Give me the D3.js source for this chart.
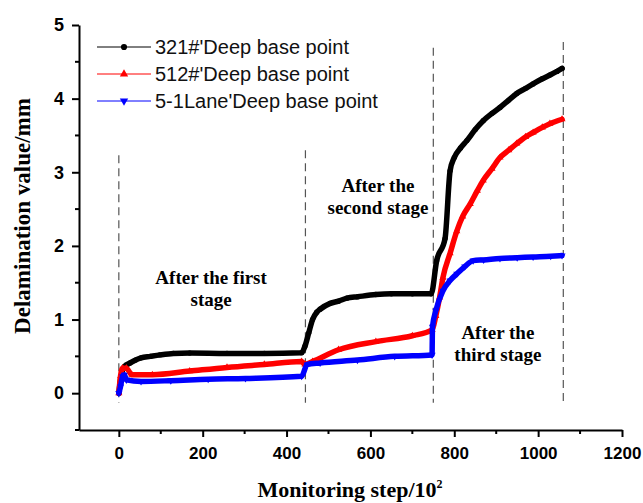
<!DOCTYPE html>
<html>
<head>
<meta charset="utf-8">
<script src="https://cdn.jsdelivr.net/npm/d3@7/dist/d3.min.js"></script>
<style>
  body { margin: 0; background: #fff; }
  svg { display: block; }
</style>
</head>
<body>
<svg id="chart" width="643" height="503"></svg>
<script>
// Monitoring step (x 10^2) and delamination value (mm) for each deep base point
const steps321 = [0, 4, 13, 27, 40, 53, 75, 98, 130, 169, 258, 347, 436, 444, 453, 462, 472, 480, 504, 524, 544, 570, 613, 650, 700, 745, 758, 778, 790, 800, 815, 830, 850, 869, 890, 909, 930, 949, 970, 988, 1010, 1028, 1045, 1057];
const vals321  = [0, 0.18, 0.36, 0.41, 0.45, 0.48, 0.5, 0.52, 0.54, 0.545, 0.54, 0.54, 0.55, 0.64, 0.82, 1.0, 1.1, 1.14, 1.22, 1.25, 1.29, 1.31, 1.34, 1.35, 1.35, 1.35, 1.8, 2.1, 3.02, 3.2, 3.33, 3.43, 3.58, 3.7, 3.8, 3.88, 3.98, 4.07, 4.14, 4.2, 4.27, 4.32, 4.37, 4.41];

const steps512 = [0, 4, 9, 18, 31, 80, 169, 258, 347, 436, 444, 462, 524, 613, 700, 747, 756, 765, 773, 790, 806, 820, 838, 855, 869, 890, 909, 930, 949, 970, 988, 1010, 1028, 1057];
const vals512  = [0, 0.23, 0.34, 0.34, 0.25, 0.25, 0.3, 0.35, 0.39, 0.43, 0.39, 0.43, 0.59, 0.7, 0.78, 0.86, 1.05, 1.3, 1.57, 1.9, 2.2, 2.4, 2.57, 2.75, 2.89, 3.05, 3.2, 3.3, 3.39, 3.48, 3.54, 3.61, 3.66, 3.72];

const steps51 = [0, 4, 9, 13, 18, 53, 124, 213, 302, 436, 449, 480, 569, 658, 747, 748, 756, 773, 790, 806, 825, 845, 870, 909, 950, 988, 1030, 1057];
const vals51  = [0, 0.09, 0.23, 0.25, 0.18, 0.16, 0.17, 0.19, 0.2, 0.23, 0.39, 0.41, 0.45, 0.5, 0.52, 0.9, 1.12, 1.39, 1.53, 1.62, 1.72, 1.8, 1.81, 1.83, 1.84, 1.85, 1.86, 1.87];

const seriesNames = ["321#'Deep base point", "512#'Deep base point", "5-1Lane'Deep base point"];
const seriesColors = ["#000000", "#ff0000", "#0000ff"];
const seriesSymbols = [d3.symbolCircle, d3.symbolTriangle, "down"];

// Stage boundaries: step and the value span of each dashed guide
const stageSteps = [0, 445, 750, 1060];
const stageTop = [3.23, 3.3, 4.69, 4.77];
const stageBottom = -0.13;

const xTicks = [0, 200, 400, 600, 800, 1000, 1200];
const xMinor = [100, 300, 500, 700, 900, 1100];
const yTicks = [0, 1, 2, 3, 4, 5];
const yMinor = [-0.5, 0.5, 1.5, 2.5, 3.5, 4.5];

const stageLabels = [
  { step: 220, value: 1.48, lines: ["After the first", "stage"] },
  { step: 618, value: 2.73, lines: ["After the", "second stage"] },
  { step: 904, value: 0.74, lines: ["After the", "third stage"] }
];

const svg = d3.select("#chart");
const x = d3.scaleLinear().domain([-95, 1200]).range([79, 622]);
const y = d3.scaleLinear().domain([-0.5, 5]).range([430, 25]);

const tickFont = "'Liberation Sans', Arial, sans-serif";
const serif = "'Liberation Serif', 'Times New Roman', serif";

// Axes
const xAxis = svg.append("g").attr("transform", "translate(0,430)")
  .call(d3.axisBottom(x).tickValues(xTicks).tickSize(7).tickPadding(5).tickSizeOuter(0).tickFormat(d3.format("d")));
const yAxis = svg.append("g").attr("transform", "translate(79,0)")
  .call(d3.axisLeft(y).tickValues(yTicks).tickSize(7).tickPadding(8).tickSizeOuter(0).tickFormat(d3.format("d")));
[xAxis, yAxis].forEach(g => {
  g.select(".domain").attr("stroke", "#000").attr("stroke-width", 2);
  g.selectAll(".tick line").attr("stroke", "#000").attr("stroke-width", 2);
  g.selectAll(".tick text").attr("font-family", tickFont).attr("font-weight", "bold")
    .attr("fill", "#000");
});
xAxis.selectAll(".tick text").attr("font-size", 17).attr("dy", "1.0em");
yAxis.selectAll(".tick text").attr("font-size", 18);

// Minor ticks
svg.append("g").selectAll("line").data(xMinor).join("line")
  .attr("x1", d => x(d)).attr("x2", d => x(d)).attr("y1", 430).attr("y2", 434)
  .attr("stroke", "#000").attr("stroke-width", 2);
svg.append("g").selectAll("line").data(yMinor).join("line")
  .attr("x1", 75).attr("x2", 79).attr("y1", d => y(d)).attr("y2", d => y(d))
  .attr("stroke", "#000").attr("stroke-width", 2);

// Stage guides
svg.append("g").selectAll("line").data(stageSteps).join("line")
  .attr("x1", d => x(d)).attr("x2", d => x(d))
  .attr("y1", (d, i) => y(stageTop[i])).attr("y2", y(stageBottom))
  .attr("stroke", "#555").attr("stroke-width", 1.2).attr("stroke-dasharray", "8,5");

// Series
const series = [
  { s: steps321, v: vals321 },
  { s: steps512, v: vals512 },
  { s: steps51, v: vals51 }
];
const line = d3.line().x(d => x(d[0])).y(d => y(d[1])).curve(d3.curveMonotoneX);
function symbolPath(sym, size) {
  if (sym === "down") return d3.symbol(d3.symbolTriangle, size)();
  return d3.symbol(sym, size)();
}
series.forEach((ser, i) => {
  const pts = ser.s.map((st, k) => [st, ser.v[k]]);
  const g = svg.append("g");
  g.append("path").datum(pts).attr("d", line)
    .attr("fill", "none").attr("stroke", seriesColors[i]).attr("stroke-width", 5.5)
    .attr("stroke-linejoin", "round").attr("stroke-linecap", "round");
  g.selectAll("path.m").data(pts).join("path").attr("class", "m")
    .attr("d", symbolPath(seriesSymbols[i], 22))
    .attr("transform", d => `translate(${x(d[0])},${y(d[1])})` + (seriesSymbols[i] === "down" ? " rotate(180)" : ""))
    .attr("fill", seriesColors[i]);
});

// Legend
const legend = svg.append("g");
seriesNames.forEach((name, i) => {
  const ly = 47 + i * 27;
  legend.append("line").attr("x1", 97).attr("x2", 151).attr("y1", ly).attr("y2", ly)
    .attr("stroke", seriesColors[i]).attr("stroke-width", 1);
  legend.append("path").attr("d", symbolPath(seriesSymbols[i], 30))
    .attr("transform", `translate(124,${ly})` + (seriesSymbols[i] === "down" ? " rotate(180)" : ""))
    .attr("fill", seriesColors[i]);
  legend.append("text").attr("x", 155).attr("y", ly + 7).text(name)
    .attr("font-family", tickFont).attr("font-size", 20).attr("fill", "#111");
});

// Stage annotations
stageLabels.forEach(lab => {
  const t = svg.append("text").attr("text-anchor", "middle")
    .attr("font-family", serif).attr("font-weight", "bold").attr("font-size", 19).attr("fill", "#000");
  lab.lines.forEach((ln, k) => {
    t.append("tspan").attr("x", x(lab.step)).attr("y", y(lab.value) + k * 22).text(ln);
  });
});

// Axis titles
svg.append("text").attr("x", 350).attr("y", 497).attr("text-anchor", "middle")
  .attr("font-family", serif).attr("font-weight", "bold").attr("font-size", 22)
  .html("Monitoring step/10<tspan dy='-9' font-size='12'>2</tspan>");
svg.append("text").attr("transform", "translate(30,216) rotate(-90)").attr("text-anchor", "middle")
  .attr("font-family", serif).attr("font-weight", "bold").attr("font-size", 23)
  .text("Delamination value/mm");
</script>
</body>
</html>
